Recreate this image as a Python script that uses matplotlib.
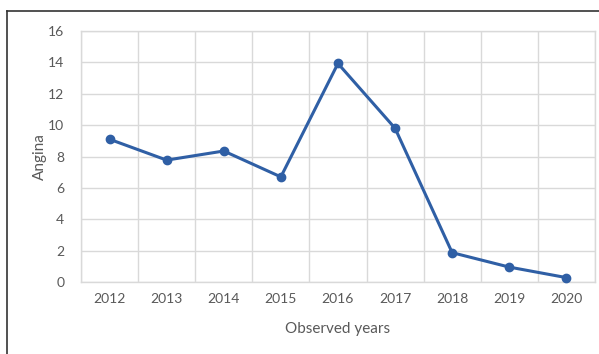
import numpy as np
import matplotlib.pyplot as plt
from matplotlib.lines import Line2D

years = ["2012", "2013", "2014", "2015", "2016", "2017", "2018", "2019", "2020"]
angina = [9.1, 7.77, 8.35, 6.7, 13.93, 9.8, 1.87, 0.95, 0.28]
yticks = [0, 2, 4, 6, 8, 10, 12, 14, 16]

plt.rcParams['font.family'] = ['Lato', 'DejaVu Sans']

fig = plt.figure(figsize=(5.99, 3.54), dpi=100)
ax = fig.add_axes([0.1352, 0.2034, 0.858, 0.709])

x = np.arange(len(years))
ax.plot(x, angina, color="#2f5fa5", linewidth=2.2, marker="o", markersize=6,
        zorder=3, clip_on=False)

ax.set_xlim(-0.5, len(years) - 0.5)
ax.set_ylim(0, 16)
ax.set_yticks(yticks)
ax.set_xticks(x)
ax.set_xticklabels(years)
ax.set_xticks(np.arange(-0.5, len(years)), minor=True)

grid_c = "#d9d9d9"
ax.grid(axis="y", which="major", color=grid_c, linewidth=1)
ax.grid(axis="x", which="minor", color=grid_c, linewidth=1)
ax.set_axisbelow(True)
for s in ax.spines.values():
    s.set_color(grid_c)
    s.set_linewidth(1)

ax.tick_params(axis="both", which="both", length=0, colors="#595959", labelsize=10)
ax.tick_params(axis="y", pad=12)
ax.tick_params(axis="x", pad=8)

ax.set_xlabel("Observed years", fontsize=11, color="#595959", labelpad=12)
ax.set_ylabel("Angina", fontsize=11, color="#595959", labelpad=1)

# outer frame (top and left edge only)
fig.add_artist(Line2D([7 / 599, 7 / 599], [0, 1 - 11 / 354], transform=fig.transFigure,
                      color="#333333", linewidth=1.2))
fig.add_artist(Line2D([7 / 599, 1], [1 - 11 / 354, 1 - 11 / 354], transform=fig.transFigure,
                      color="#333333", linewidth=1.2))

fig.savefig("out.png", dpi=100)
